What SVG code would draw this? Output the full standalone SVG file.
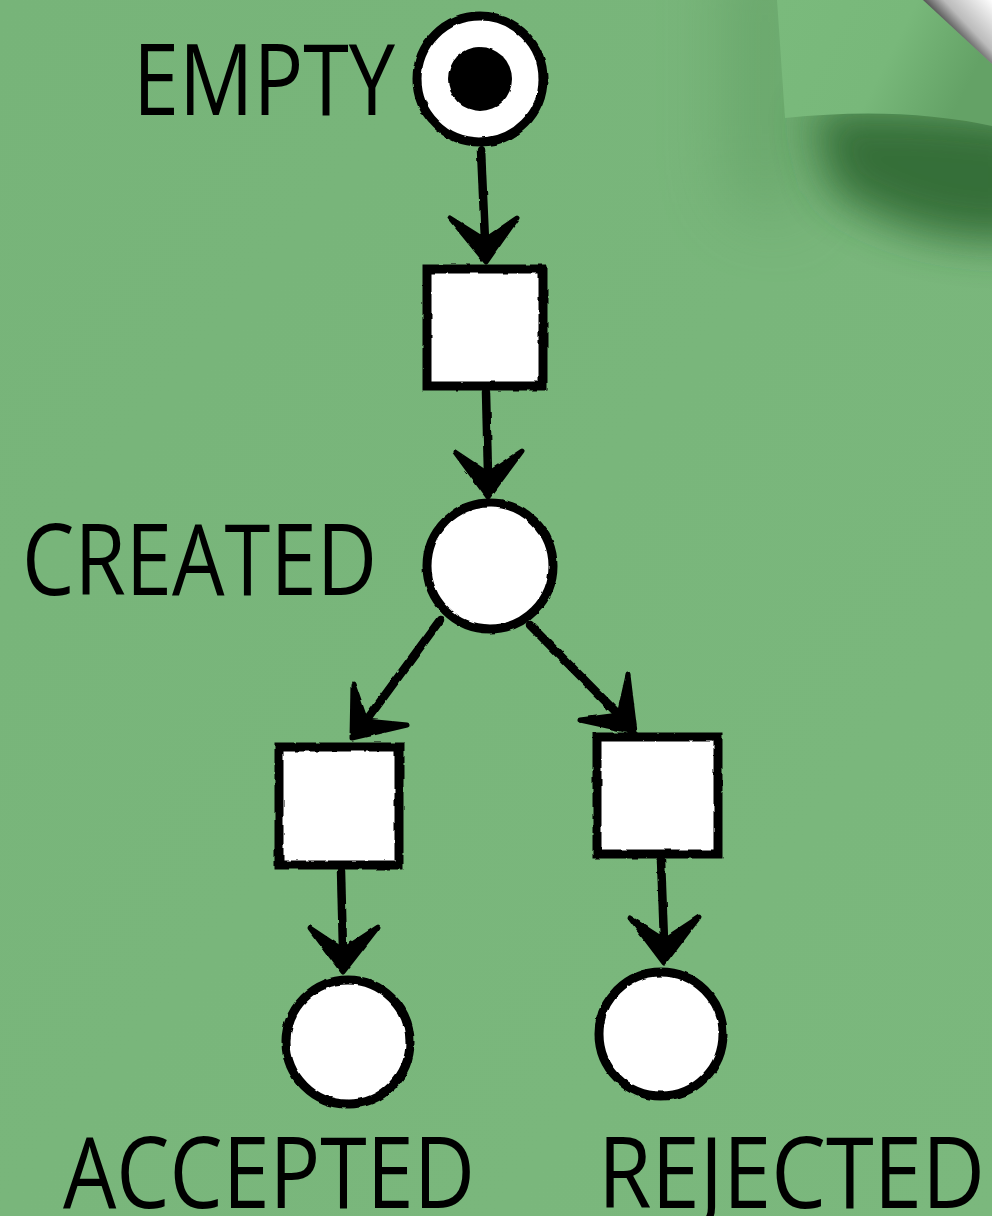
<svg xmlns="http://www.w3.org/2000/svg" width="992" height="1216" viewBox="0 0 992 1216">
<style>
.lbl{font-family:"Open Sans","Liberation Sans",sans-serif;font-size:98px;fill:#000;}
.shape{fill:#fff;stroke:#000;stroke-width:9;}
.edge{stroke:#000;stroke-width:8.5;fill:none;stroke-linecap:round;}
.head{fill:#000;stroke:#000;stroke-width:5;stroke-linejoin:round;}
</style>
<defs>
<filter id="rough" x="-10%" y="-10%" width="120%" height="120%">
<feTurbulence type="fractalNoise" baseFrequency="0.09" numOctaves="2" seed="4"/>
<feDisplacementMap in="SourceGraphic" scale="3" xChannelSelector="R" yChannelSelector="G"/>
</filter>
<filter id="blur40" filterUnits="userSpaceOnUse" x="500" y="-300" width="800" height="900">
<feGaussianBlur stdDeviation="35"/>
</filter>
<filter id="blur20" filterUnits="userSpaceOnUse" x="600" y="-200" width="700" height="700">
<feGaussianBlur stdDeviation="22"/>
</filter>
<linearGradient id="paper" x1="0" y1="0" x2="1" y2="1">
<stop offset="0" stop-color="#77b479"/>
<stop offset="1" stop-color="#7bb87d"/>
</linearGradient>
<linearGradient id="flap" x1="0" y1="0" x2="1" y2="0.3">
<stop offset="0" stop-color="#7aba7c"/>
<stop offset="0.6" stop-color="#78b87a"/>
<stop offset="1" stop-color="#64a266"/>
</linearGradient>
<linearGradient id="corner" x1="923" y1="0" x2="960" y2="-35" gradientUnits="userSpaceOnUse">
<stop offset="0" stop-color="#555"/>
<stop offset="0.3" stop-color="#bbb"/>
<stop offset="1" stop-color="#fff"/>
</linearGradient>
</defs>
<g id="background">
<rect x="0" y="0" width="992" height="1216" fill="url(#paper)"/>
<path d="M730,-60 L800,-60 L800,220 L730,200 Z" fill="#4f8d51" opacity="0.4" filter="url(#blur40)"/>
<path d="M810,110 Q900,100 1040,120 L1040,240 Q920,250 830,190 Z" fill="#2f6830" opacity="0.9" filter="url(#blur20)"/>
<path d="M777,0 L923,0 L992,64 L992,126 Q900,106 785,118 Z" fill="url(#flap)"/>
<path d="M923,0 L992,0 L992,64 Z" fill="url(#corner)"/>
</g>
<g id="connectors" filter="url(#rough)">
<g id="e1"><path class="edge" d="M481,150 L485,240"/><path class="head" d="M450,218 L486,262 L517,218 L485,240 Z"/></g>
<g id="e2"><path class="edge" d="M486,392 L488,474"/><path class="head" d="M455,452 L488,497 L522,451 L488,474 Z"/></g>
<g id="e3"><path class="edge" d="M440,620 L366,721"/><path class="head" d="M353,684 L352,738 L407,725 L366,721 Z"/></g>
<g id="e4"><path class="edge" d="M530,625 L619,715"/><path class="head" d="M628,675 L635,732 L580,720 L619,715 Z"/></g>
<g id="e5"><path class="edge" d="M341,871 L343,950"/><path class="head" d="M310,928 L343,972 L378,927 L343,950 Z"/></g>
<g id="e6"><path class="edge" d="M661,860 L664,940"/><path class="head" d="M630,918 L664,963 L699,917 L664,940 Z"/></g>
</g>
<g id="p-empty">
<g filter="url(#rough)">
<circle class="shape" cx="480" cy="79" r="63"/>
<circle cx="480" cy="79" r="32" fill="#000"/>
</g>
<text class="lbl" x="133" y="115" textLength="262" lengthAdjust="spacingAndGlyphs">EMPTY</text>
</g>
<g id="t-create" filter="url(#rough)">
<rect class="shape" x="427" y="269" width="116" height="117"/>
</g>
<g id="p-created">
<circle class="shape" cx="490" cy="566" r="63" filter="url(#rough)"/>
<text class="lbl" x="22" y="595" textLength="355" lengthAdjust="spacingAndGlyphs">CREATED</text>
</g>
<g id="t-accept" filter="url(#rough)">
<rect class="shape" x="279" y="747" width="120" height="118"/>
</g>
<g id="t-reject" filter="url(#rough)">
<rect class="shape" x="597" y="737" width="121" height="117"/>
</g>
<g id="p-accepted">
<circle class="shape" cx="348" cy="1042" r="62" filter="url(#rough)"/>
<text class="lbl" x="63" y="1208" textLength="412" lengthAdjust="spacingAndGlyphs">ACCEPTED</text>
</g>
<g id="p-rejected">
<circle class="shape" cx="661" cy="1034" r="62" filter="url(#rough)"/>
<text class="lbl" x="598" y="1208" textLength="387" lengthAdjust="spacingAndGlyphs">REJECTED</text>
</g>
</svg>
